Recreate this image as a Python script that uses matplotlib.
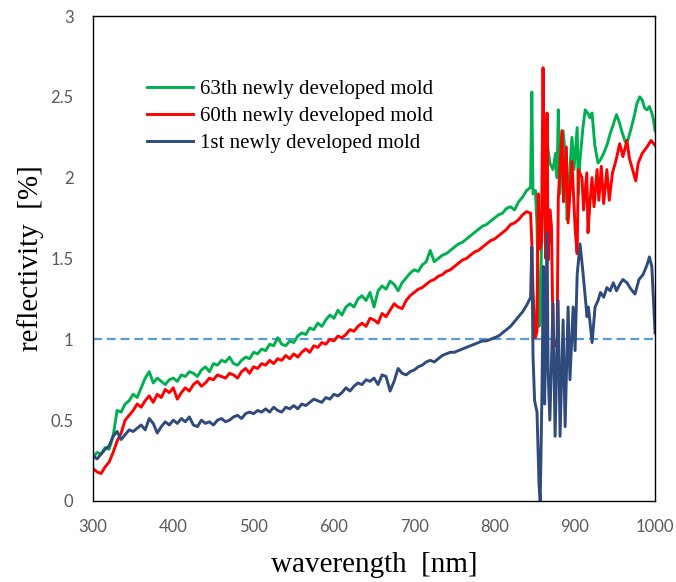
import numpy as np
import matplotlib
matplotlib.use('Agg')
import matplotlib.pyplot as plt

# wavelength grid of the smooth part (300-840 nm, every 5 nm)
wl_base = np.arange(300, 841, 5)

# 63th newly developed mold
mold63_base = [
    0.27, 0.30, 0.29, 0.33, 0.32, 0.40, 0.56, 0.55, 0.60, 0.62,
    0.66, 0.64, 0.70, 0.76, 0.80, 0.73, 0.76, 0.74, 0.72, 0.75,
    0.76, 0.74, 0.78, 0.77, 0.80, 0.79, 0.77, 0.81, 0.83, 0.80,
    0.85, 0.84, 0.87, 0.86, 0.89, 0.85, 0.84, 0.87, 0.89, 0.88,
    0.92, 0.91, 0.94, 0.93, 0.97, 0.96, 1.01, 0.97, 0.96, 0.99,
    0.98, 1.02, 1.04, 1.03, 1.07, 1.06, 1.10, 1.08, 1.12, 1.15,
    1.13, 1.18, 1.15, 1.20, 1.22, 1.20, 1.25, 1.27, 1.24, 1.29,
    1.20, 1.30, 1.33, 1.31, 1.36, 1.34, 1.30, 1.35, 1.38, 1.41,
    1.43, 1.42, 1.46, 1.48, 1.55, 1.48, 1.50, 1.52, 1.53, 1.55,
    1.57, 1.59, 1.60, 1.62, 1.64, 1.66, 1.68, 1.70, 1.71, 1.73,
    1.75, 1.77, 1.78, 1.81, 1.82, 1.80, 1.85, 1.88, 1.92,
]
mold63_tail_wl = [
    845, 846.5, 848, 851, 853, 855.5, 857, 859, 862, 864, 866, 869, 873, 876,
    878, 879.5, 881.5, 885.5, 888, 890.5, 892, 896.5, 899, 903, 904.5, 906.5,
    910, 913, 916, 919, 921.5, 925, 929, 932, 936, 940, 944, 948, 952, 955,
    959, 963, 966, 970, 974, 977.5, 981, 984, 987, 990, 993, 996, 998, 1000,
]
mold63_tail = [
    1.94, 2.53, 1.90, 1.92, 1.70, 1.08, 1.10, 1.70, 2.37, 2.25, 2.20, 2.09, 2.05, 2.15,
    2.00, 2.42, 1.90, 2.29, 2.15, 1.74, 1.90, 2.25, 2.05, 2.31, 1.90, 2.11,
    2.30, 2.42, 2.40, 2.37, 2.40, 2.20, 2.09, 2.11, 2.15, 2.20, 2.27, 2.33, 2.39, 2.35,
    2.28, 2.22, 2.23, 2.30, 2.38, 2.46, 2.50, 2.48, 2.43, 2.42, 2.44, 2.40, 2.36, 2.29,
]

# 60th newly developed mold
mold60_base = [
    0.20, 0.18, 0.17, 0.21, 0.24, 0.30, 0.37, 0.42, 0.50, 0.53,
    0.56, 0.60, 0.58, 0.62, 0.65, 0.61, 0.66, 0.64, 0.69, 0.67,
    0.70, 0.63, 0.67, 0.70, 0.68, 0.72, 0.74, 0.71, 0.73, 0.76,
    0.75, 0.78, 0.77, 0.76, 0.79, 0.78, 0.76, 0.80, 0.82, 0.79,
    0.83, 0.82, 0.85, 0.84, 0.87, 0.85, 0.88, 0.87, 0.90, 0.88,
    0.91, 0.89, 0.92, 0.94, 0.92, 0.96, 0.95, 0.98, 0.97, 1.00,
    0.99, 1.02, 1.01, 1.03, 1.06, 1.05, 1.08, 1.10, 1.08, 1.13,
    1.12, 1.10, 1.16, 1.14, 1.18, 1.22, 1.20, 1.19, 1.24, 1.27,
    1.29, 1.31, 1.32, 1.34, 1.36, 1.37, 1.39, 1.40, 1.42, 1.43,
    1.45, 1.47, 1.49, 1.50, 1.52, 1.54, 1.55, 1.57, 1.59, 1.61,
    1.62, 1.64, 1.66, 1.68, 1.71, 1.72, 1.74, 1.77, 1.79,
]
mold60_tail_wl = [
    845, 846.5, 848, 851, 853, 854.5, 856.5, 858.5, 860.5, 862, 864, 865.5, 866.8,
    869, 871, 873, 876, 878, 879.5, 884, 886, 889.5, 891.7, 896.5, 900.5, 903,
    904.5, 909, 911, 915, 916.5, 919, 921.5, 924, 927.8, 930, 933, 936, 940, 943,
    947, 951, 956, 960, 965, 968, 972, 976, 979, 984, 990, 995, 1000,
]
mold60_tail = [
    1.78, 1.60, 1.30, 1.01, 1.05, 1.90, 1.56, 1.60, 2.68, 1.87, 1.50, 2.40, 1.49,
    1.80, 1.70, 1.00, 0.96, 1.00, 1.87, 2.29, 1.85, 2.19, 1.72, 2.10, 1.68, 1.53,
    2.05, 2.00, 1.80, 2.03, 1.66, 1.85, 2.00, 1.82, 2.05, 1.86, 2.07, 1.84, 2.05, 1.86,
    2.03, 2.10, 2.21, 2.13, 2.23, 2.12, 2.05, 1.98, 2.09, 2.15, 2.19, 2.23, 2.20,
]

# 1st newly developed mold
mold1_base = [
    0.28, 0.26, 0.29, 0.32, 0.34, 0.40, 0.43, 0.38, 0.41, 0.44,
    0.43, 0.45, 0.47, 0.44, 0.51, 0.48, 0.42, 0.46, 0.49, 0.47,
    0.50, 0.48, 0.51, 0.49, 0.52, 0.47, 0.46, 0.50, 0.48, 0.49,
    0.47, 0.50, 0.51, 0.49, 0.50, 0.52, 0.53, 0.51, 0.54, 0.55,
    0.54, 0.56, 0.55, 0.57, 0.55, 0.58, 0.56, 0.55, 0.58, 0.57,
    0.59, 0.57, 0.60, 0.59, 0.61, 0.63, 0.62, 0.61, 0.64, 0.63,
    0.66, 0.65, 0.67, 0.70, 0.68, 0.71, 0.73, 0.72, 0.75, 0.74,
    0.76, 0.72, 0.78, 0.77, 0.68, 0.74, 0.82, 0.79, 0.78, 0.80,
    0.81, 0.83, 0.84, 0.86, 0.87, 0.86, 0.88, 0.90, 0.91, 0.92,
    0.92, 0.93, 0.94, 0.95, 0.96, 0.97, 0.98, 0.99, 0.99, 1.00,
    1.01, 1.02, 1.04, 1.06, 1.08, 1.11, 1.14, 1.17, 1.21,
]
mold1_tail_wl = [
    845, 846.5, 848, 850, 853, 855.5, 857, 859, 861, 862.5, 865.5, 866.8, 869,
    873, 875.5, 879.3, 881.7, 885.5, 888, 891.7, 894, 898, 900.4, 903, 906.6,
    910.3, 915.3, 917, 921.6, 925.3, 929, 932, 936, 940, 944, 948, 952, 956,
    960, 965, 970, 975, 980, 985, 990, 993, 996, 1000,
]
mold1_tail = [
    1.26, 1.57, 0.90, 0.62, 0.55, 0.10, 0.00, 0.62, 1.45, 0.60, 1.66, 0.80, 0.50,
    1.22, 0.40, 1.24, 0.40, 1.12, 0.46, 1.20, 0.75, 1.20, 0.93, 1.40, 1.59,
    1.41, 1.14, 1.20, 0.98, 1.20, 1.24, 1.29, 1.26, 1.32, 1.30, 1.35, 1.30, 1.34,
    1.37, 1.35, 1.31, 1.28, 1.37, 1.40, 1.46, 1.51, 1.45, 1.04,
]

labels = ['63th newly developed mold', '60th newly developed mold', '1st newly developed mold']
colors = ['#00B050', '#FF0000', '#2F4A7C']

xticks = [300, 400, 500, 600, 700, 800, 900, 1000]
yticks = [0, 0.5, 1, 1.5, 2, 2.5, 3]
ytick_labels = ['0', '0.5', '1', '1.5', '2', '2.5', '3']
threshold = 1.0


def main():
    series = [
        (mold63_base, mold63_tail_wl, mold63_tail),
        (mold60_base, mold60_tail_wl, mold60_tail),
        (mold1_base, mold1_tail_wl, mold1_tail),
    ]

    fig = plt.figure(figsize=(6.76, 5.82), dpi=100)
    ax = fig.add_axes([0.1376, 0.1392, 0.8314, 0.8333])

    ax.axhline(threshold, color='#5B9BD5', lw=1.6, ls=(0, (4, 2.2)), zorder=1)

    for (base, tail_wl, tail), label, color in zip(series, labels, colors):
        x = np.concatenate([wl_base, tail_wl])
        y = np.concatenate([base, tail])
        ax.plot(x, y, color=color, lw=2.1, label=label, zorder=2)

    ax.set_xlim(300, 1000)
    ax.set_ylim(0, 3)
    ax.set_xticks(xticks)
    ax.set_yticks(yticks)
    ax.set_yticklabels(ytick_labels)
    ax.tick_params(length=0, labelsize=12, labelcolor='#595959')
    ax.tick_params(axis='x', pad=13)
    ax.tick_params(axis='y', pad=14)
    for lab in ax.get_xticklabels() + ax.get_yticklabels():
        lab.set_family('Lato')
    for side in ax.spines.values():
        side.set_color('black')
        side.set_linewidth(1.0)

    ax.set_xlabel('waverength  [nm]', family='Liberation Serif', fontsize=21, va='center')
    ax.xaxis.set_label_coords(0.5, -0.132)
    ax.set_ylabel('reflectivity  [%]', family='Liberation Serif', fontsize=21, va='center')
    ax.yaxis.set_label_coords(-0.112, 0.5)

    ax.legend(loc='upper left', bbox_to_anchor=(0.078, 0.89), frameon=False,
              prop={'family': 'Liberation Serif', 'size': 15},
              handlelength=2.2, handletextpad=0.35, labelspacing=0.35, borderpad=0)

    fig.savefig('out.png', dpi=100)


if __name__ == '__main__':
    main()
